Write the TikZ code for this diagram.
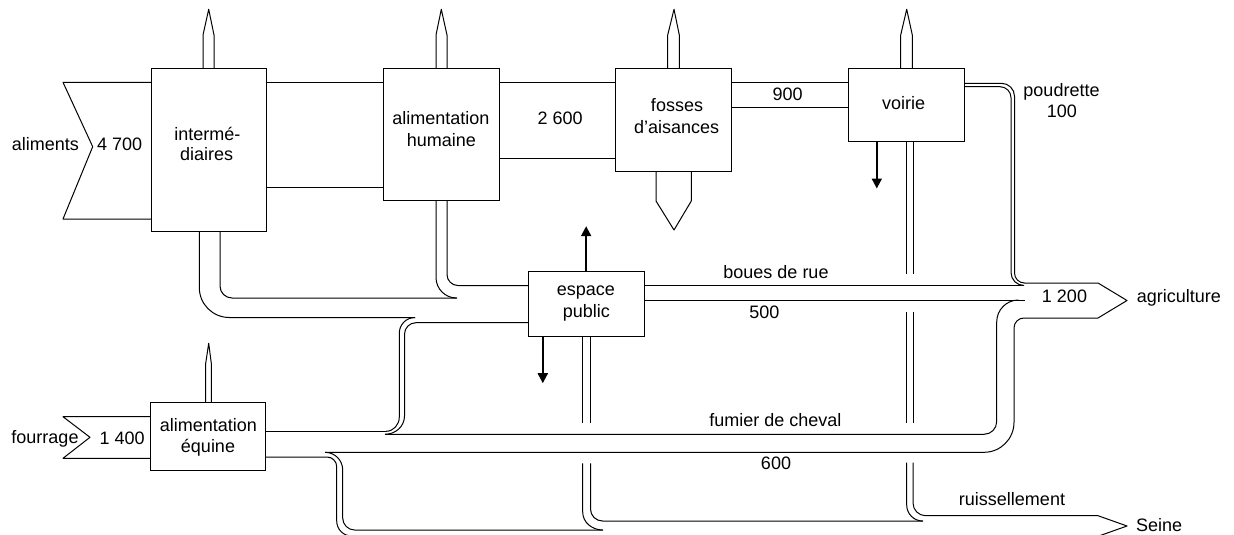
\documentclass[tikz,border=0pt]{standalone}
\usepackage{fontspec}
\setmainfont{Liberation Sans}
\usetikzlibrary{arrows.meta}
\newcommand\lblfont{\fontsize{18}{21}\selectfont}
\tikzset{
  band/.style={line width=1pt, line join=round},
  box/.style={draw, line width=1pt, fill=white, inner sep=0pt},
  lbl/.style={font=\lblfont, anchor=base, inner sep=0pt},
  flowarrow/.style={line width=2pt, -{Triangle[width=10pt,length=10pt]}},
}
\begin{document}
\begin{tikzpicture}[x=1pt,y=-1pt]
\useasboundingbox (0,0) rectangle (1234,535);
\fill[white] (0,0) rectangle (1234,535);

% ---------- bands ----------
% aliments input
\draw[band] (151,82.3) -- (63,82.3) -- (92.7,146.7) -- (63,219) -- (151,219);
% fourrage input
\draw[band] (151,416.7) -- (63,416.7) -- (90,437.3) -- (63,458.3) -- (151,458.3);
% intermediaires -> alimentation humaine
\draw[band] (266,82.3) -- (383,82.3);
\draw[band] (266,187.3) -- (383,187.3);
% alimentation humaine -> fosses
\draw[band] (499,82.3) -- (615.3,82.3);
\draw[band] (499,158.3) -- (615.3,158.3);
% fosses -> voirie
\draw[band] (731.3,82.3) -- (848,82.3);
\draw[band] (731.3,107.7) -- (848,107.7);
% poudrette -> agriculture
\draw[band] (964,83.3) -- (1001.5,83.3) to[out=0,in=90] (1014.5,96.3) -- (1014.5,273)
  to[out=270,in=180] (1024.5,283) -- (1098,283) -- (1127,300.5) -- (1098,318);
\draw[band] (964,86.7) -- (1000,86.7) to[out=0,in=90] (1011,97.7) -- (1011,272.5)
  to[out=270,in=180] (1024,285.5);
% boues de rue
\draw[band] (644,285.5) -- (1024,285.5);
\draw[band] (644,300) -- (1025,300);
% intermediaires -> espace public
\draw[band] (199.3,231.7) -- (199.3,287.5) to[out=270,in=180] (229.3,317.5) -- (415,317.5);
\draw[band] (220,231.7) -- (220,286) to[out=270,in=180] (232,298) -- (457,298);
% alimentation humaine -> espace public
\draw[band] (436,200) -- (436,277.5) to[out=270,in=180] (456.5,298);
\draw[band] (447,200) -- (447,274.5) to[out=270,in=180] (458,285.5) -- (528.3,285.5);
% espace public -> fumier
\draw[band] (415,317.5) to[out=180,in=90] (399.3,333.2) -- (399.3,417) to[out=270,in=0] (386,431.3);
\draw[band] (528.3,322.7) -- (416,322.7) to[out=180,in=90] (404.5,334.2) -- (404.5,416)
  to[out=270,in=0] (385,434.3);
% fumier de cheval
\draw[band] (265.7,431.3) -- (386,431.3);
\draw[band] (385,434.3) -- (984,434.3) to[out=0,in=270] (996.7,421.6) -- (996.7,322)
  to[out=90,in=180] (1018.5,300);
\draw[band] (325,452.3) -- (984,452.3) to[out=0,in=270] (1014,422.3) -- (1014,328)
  to[out=90,in=180] (1024,318) -- (1098,318);
% alimentation equine -> Seine
\draw[band] (265.7,457) -- (327,457) to[out=0,in=90] (336.7,466.7) -- (336.7,521)
  to[out=270,in=180] (351.7,536) -- (1098,536);
\draw[band] (325,452.3) to[out=0,in=90] (342.7,470) -- (342.7,518)
  to[out=270,in=180] (354.7,530) -- (603,530);
% espace public -> Seine
\draw[band] (582.7,336) -- (582.7,423.3);
\draw[band] (582.7,463.3) -- (582.7,512) to[out=270,in=180] (602.7,530);
\draw[band] (590.5,336) -- (590.5,423.3);
\draw[band] (590.5,463.3) -- (590.5,509) to[out=270,in=180] (602.5,521) -- (923,521);
% voirie -> Seine
\draw[band] (906.7,141.7) -- (906.7,274);
\draw[band] (906.7,311.7) -- (906.7,423.3);
\draw[band] (906.7,462.7) -- (906.7,505) to[out=270,in=180] (922.7,521);
\draw[band] (913,141.7) -- (913,274);
\draw[band] (913,311.7) -- (913,423.3);
\draw[band] (913,462.7) -- (913,503) to[out=270,in=180] (925.7,515.7) -- (1098,515.7)
  -- (1127,526) -- (1098,536.3);

% ---------- boxes ----------
\node[box, minimum width=115pt, minimum height=163.4pt] (inter) at (208.5,150) {};
\node[box, minimum width=116pt, minimum height=131.7pt] (hum) at (441,134.15) {};
\node[box, minimum width=116pt, minimum height=103pt] (fos) at (673.3,119.8) {};
\node[box, minimum width=116pt, minimum height=73.4pt] (voi) at (906,105) {};
\node[box, minimum width=115.7pt, minimum height=64.3pt] (esp) at (586.15,303.85) {};
\node[box, minimum width=115pt, minimum height=68pt] (equ) at (208.2,436.7) {};

% ---------- exhaust spikes ----------
\draw[band] (203,68.3) -- (203,35) -- (208.7,9.3) -- (214,35) -- (214,68.3);
\draw[band] (436,68.3) -- (436,35) -- (441.3,9.3) -- (447,35) -- (447,68.3);
\draw[band] (667.7,68.3) -- (667.7,35) -- (674,9.3) -- (679.3,35) -- (679.3,68.3);
\draw[band] (900.7,68.3) -- (900.7,35) -- (906.7,9.3) -- (912.3,35) -- (912.3,68.3);
\draw[band] (205.7,402.7) -- (205.7,363.3) -- (208.7,343.3) -- (211.3,363.3) -- (211.3,402.7);
\draw[band] (656,171.3) -- (656,201) -- (674,230) -- (691.3,201) -- (691.3,171.3);

% ---------- small flow arrows ----------
\draw[flowarrow] (esp.north) -- ++(0,-45);
\draw[flowarrow] ([xshift=15pt]esp.south west) -- ++(0,46.7);
\draw[flowarrow] ([xshift=29.3pt]voi.south west) -- ++(0,46.3);

% ---------- labels ----------
\node[lbl] (tAli) at (45.3,150) {aliments};
\node[lbl] (tAliV) at (119.7,150.5) {4 700};
\node[lbl] (tInt1) at (207.3,140) {intermé-};
\node[lbl] (tInt2) at (206.7,160.5) {diaires};
\node[lbl] (tHum1) at (440.8,124.5) {alimentation};
\node[lbl] (tHum2) at (441.3,146) {humaine};
\node[lbl] (tHumV) at (560.2,124) {2 600};
\node[lbl] (tFos1) at (677,111.7) {fosses};
\node[lbl] (tFos2) at (676.7,133.3) {d’aisances};
\node[lbl] (tFosV) at (787.7,100.7) {900};
\node[lbl] (tVoi) at (903.7,109.3) {voirie};
\node[lbl] (tPou) at (1061.5,96.7) {poudrette};
\node[lbl] (tPouV) at (1061.8,117.7) {100};
\node[lbl] (tAgrV) at (1064.5,302.7) {1 200};
\node[lbl] (tAgr) at (1178.8,302.7) {agriculture};
\node[lbl] (tBou) at (776,278.3) {boues de rue};
\node[lbl] (tBouV) at (764.3,318.3) {500};
\node[lbl] (tEsp1) at (585.8,295) {espace};
\node[lbl] (tEsp2) at (586.3,317.3) {public};
\node[lbl] (tFum) at (775.3,426.7) {fumier de cheval};
\node[lbl] (tFumV) at (776,469) {600};
\node[lbl] (tEqu1) at (208.3,431.7) {alimentation};
\node[lbl] (tEqu2) at (208,452.7) {équine};
\node[lbl] (tFou) at (45,443.3) {fourrage};
\node[lbl] (tFouV) at (122.2,444) {1 400};
\node[lbl] (tRui) at (1012,505) {ruissellement};
\node[lbl, anchor=base west] (tSei) at (1136,531.7) {Seine};
\end{tikzpicture}
\end{document}
